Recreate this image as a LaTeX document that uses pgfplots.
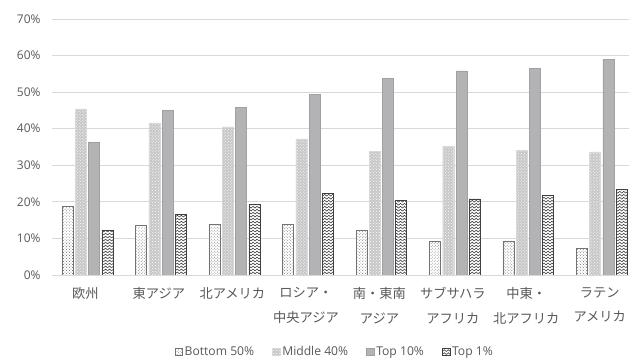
\documentclass[border=0pt]{standalone}
\usepackage{pgfplots}
\pgfplotsset{compat=1.18}
\usepackage{fontspec}
\setmainfont{Open Sans}
\newfontfamily\jp{Noto Sans CJK JP}
\usetikzlibrary{patterns}
\definecolor{tickgray}{HTML}{595959}
\definecolor{gridgray}{HTML}{D9D9D9}
\definecolor{topten}{HTML}{B3B3B5}
\pgfdeclarepatternformonly{zigzag}{\pgfqpoint{-0.5pt}{-0.5pt}}{\pgfqpoint{4.5pt}{3.5pt}}{\pgfqpoint{4pt}{3pt}}{%
  \pgfsetlinewidth{0.6pt}%
  \pgfpathmoveto{\pgfqpoint{0pt}{0.5pt}}%
  \pgfpathlineto{\pgfqpoint{2pt}{2.3pt}}%
  \pgfpathlineto{\pgfqpoint{4pt}{0.5pt}}%
  \pgfusepath{stroke}}
\pgfdeclarepatternformonly{sdots}{\pgfqpoint{-0.5pt}{-0.5pt}}{\pgfqpoint{3.5pt}{3.5pt}}{\pgfqpoint{3pt}{3pt}}{%
  \pgfpathcircle{\pgfqpoint{0.75pt}{0.75pt}}{0.45pt}%
  \pgfpathcircle{\pgfqpoint{2.25pt}{2.25pt}}{0.45pt}%
  \pgfusepath{fill}}
\begin{document}
\begin{tikzpicture}
\useasboundingbox (0,0) rectangle (629bp,361bp);
\begin{axis}[
  at={(52bp,86bp)}, anchor=south west,
  scale only axis, width=577bp, height=256bp,
  xmin=-0.483, xmax=7.37, ymin=0, ymax=70,
  ybar=2.3bp, bar width=11bp,
  axis line style={draw=none},
  ytick={0,10,...,70},
  yticklabels={0\%,10\%,20\%,30\%,40\%,50\%,60\%,70\%},
  ymajorgrids, grid style={gridgray, line width=0.8pt},
  major tick length=0pt,
  xtick={0,...,7},
  xticklabels={欧州,東アジア,北アメリカ,ロシア・\\中央アジア,南・東南\\アジア,サブサハラ\\アフリカ,中東・\\北アフリカ,ラテン\\アメリカ},
  xticklabel style={font=\jp\fontsize{13.3}{24.5}\selectfont, text=tickgray, align=center, yshift=-9bp, xshift=-2bp},
  yticklabel style={font=\fontsize{12}{14}\selectfont, text=tickgray, xshift=-8bp},
  legend style={at={(0.49,-0.30)}, anchor=center, draw=none, legend columns=-1,
    font=\fontsize{12.2}{14}\selectfont, text=tickgray,
    /tikz/every even column/.append style={column sep=16bp}},
  legend image code/.code={\draw[#1, line width=0.5pt] (0bp,-3.8bp) rectangle (7.6bp,3.8bp);},
]
\addplot[fill=white, draw=black!55, line width=0.6pt, postaction={pattern=sdots, pattern color=black!60}] coordinates {
 (0,18.7) (1,13.6) (2,13.9) (3,13.8) (4,12.3) (5,9.1) (6,9.3) (7,7.3)};
\addplot[fill=black!22, draw=black!15, line width=0.4pt, postaction={pattern=crosshatch dots, pattern color=white}] coordinates {
 (0,45.4) (1,41.6) (2,40.5) (3,37.2) (4,33.9) (5,35.2) (6,34.1) (7,33.7)};
\addplot[fill=topten, draw=topten!90!black, line width=0.4pt] coordinates {
 (0,36.3) (1,45.0) (2,45.9) (3,49.4) (4,53.8) (5,55.8) (6,56.6) (7,59.0)};
\addplot[fill=white, draw=black!75, line width=0.7pt, postaction={pattern=zigzag, pattern color=black!75}] coordinates {
 (0,12.1) (1,16.6) (2,19.2) (3,22.3) (4,20.5) (5,20.8) (6,21.8) (7,23.5)};
\legend{Bottom 50\%, Middle 40\%, Top 10\%, Top 1\%}
\end{axis}
\end{tikzpicture}
\end{document}
